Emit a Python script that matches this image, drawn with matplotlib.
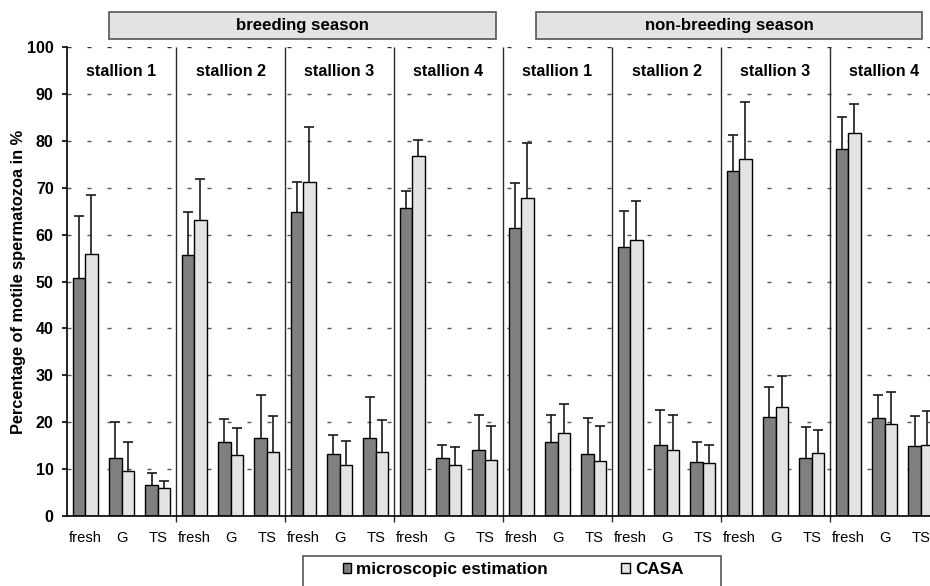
import matplotlib
matplotlib.use("Agg")
import matplotlib.pyplot as plt
from matplotlib.patches import Rectangle
import numpy as np

plt.rcParams['font.family'] = ['Liberation Sans', 'DejaVu Sans']

# ---------------- data ----------------
seasons = ["breeding season", "non-breeding season"]
stallions = ["stallion 1", "stallion 2", "stallion 3", "stallion 4"]
treatments = ["fresh", "G", "TS"]
series_names = ["microscopic estimation", "CASA"]

# order: season -> stallion -> treatment (fresh, G, TS)
micro_mean = [50.7, 12.4, 6.6, 55.7, 15.8, 16.6, 64.9, 13.3, 16.6, 65.7, 12.4, 14.1,
              61.5, 15.8, 13.3, 57.4, 15.1, 11.6, 73.6, 21.2, 12.3, 78.3, 20.8, 14.9]
micro_sd = [13.3, 7.6, 2.6, 9.2, 4.8, 9.3, 6.3, 4.0, 8.8, 3.7, 2.7, 7.4,
            9.4, 5.7, 7.5, 7.6, 7.4, 4.1, 7.6, 6.3, 6.6, 6.8, 5.0, 6.4]
casa_mean = [55.9, 9.5, 6.0, 63.2, 13.0, 13.6, 71.2, 10.9, 13.6, 76.8, 10.9, 12.0,
             67.9, 17.6, 11.7, 58.9, 14.0, 11.3, 76.2, 23.3, 13.5, 81.7, 19.6, 15.2]
casa_sd = [12.5, 6.3, 1.5, 8.7, 5.7, 7.7, 11.7, 5.1, 6.8, 3.3, 3.9, 7.1,
           11.6, 6.3, 7.5, 8.2, 7.5, 3.8, 12.0, 6.5, 4.9, 6.1, 6.9, 7.1]
y_ticks = [0, 10, 20, 30, 40, 50, 60, 70, 80, 90, 100]
y_label = "Percentage of motile spermatozoa in %"

# ---------------- layout helpers ----------------
W, H = 930, 586
def fx(x): return x / W
def fy(y): return 1 - y / H

fig = plt.figure(figsize=(W / 100, H / 100), dpi=100)
ax = fig.add_axes([fx(67), fy(516), 872 / W, 469 / H])

n = len(micro_mean)
x = np.arange(n)
bw = 0.345
dark = "#808080"
light = "#e3e3e3"

ax.set_xlim(-0.5, n - 0.5)
ax.set_ylim(0, 100)

# dashed grid lines
for v in y_ticks[1:]:
    ax.axhline(v, color="#555555" if v < 100 else "#333333", lw=1.0,
               dashes=(2.9, 11.5), zorder=0)

b1 = ax.bar(x - bw / 2, micro_mean, width=bw, color=dark, edgecolor="black",
            linewidth=1.0, zorder=2, label=series_names[0])
b2 = ax.bar(x + bw / 2, casa_mean, width=bw, color=light, edgecolor="black",
            linewidth=1.0, zorder=2, label=series_names[1])

# upward-only error bars
for xs, m, s in ((x - bw / 2, micro_mean, micro_sd), (x + bw / 2, casa_mean, casa_sd)):
    m = np.array(m); s = np.array(s)
    ax.vlines(xs, m, m + s, color="#1a1a1a", lw=1.2, zorder=3)
    ax.plot(xs, m + s, ls="none", marker="_", ms=6.5, mew=1.2, color="#1a1a1a", zorder=3)

# group separators
n_groups = len(seasons) * len(stallions)
for g in range(1, n_groups):
    ax.vlines(g * 3 - 0.5, -1.2, 100, color="#2a2a2a", lw=1.0, zorder=1, clip_on=False)

# stallion labels
for si in range(len(seasons)):
    for k, st in enumerate(stallions):
        g = si * len(stallions) + k
        ax.text(g * 3 + 1, 94.7, st, ha="center", va="center",
                fontsize=11.6, fontweight="bold", zorder=4)

# axes styling
for sp in ("top", "right"):
    ax.spines[sp].set_visible(False)
ax.spines["left"].set_linewidth(1.2)
ax.spines["bottom"].set_linewidth(1.2)
ax.set_yticks(y_ticks)
ax.set_yticklabels([str(v) for v in y_ticks], fontsize=11.5, fontweight="bold")
ax.tick_params(axis="y", length=3.6, width=1.2, pad=6)
ax.set_xticks(x)
ax.set_xticklabels(treatments * n_groups, fontsize=10.6)
ax.tick_params(axis="x", length=0, pad=10.5)
ax.set_ylabel(y_label, fontsize=11.8, fontweight="bold")
ax.yaxis.set_label_coords((26 - 67) / 872, 0.5)

# season header boxes
boxes = [(109, 496), (536, 922)]
for (x0, x1), name in zip(boxes, seasons):
    fig.patches.append(Rectangle((fx(x0), fy(39)), (x1 - x0) / W, 27 / H,
                                 transform=fig.transFigure, facecolor=light,
                                 edgecolor="#555555", lw=1.2))
    fig.text(fx((x0 + x1) / 2), fy(25.5), name, ha="center", va="center",
             fontsize=12.1, fontweight="bold")

# legend box (extends past bottom edge as in the reference)
fig.patches.append(Rectangle((fx(303), fy(600)), (721 - 303) / W, 44 / H,
                             transform=fig.transFigure, facecolor="white",
                             edgecolor="#555555", lw=1.2))
fig.legend(handles=[b1, b2], labels=series_names, loc="center left",
           bbox_to_anchor=(fx(334), fy(569.5)), ncol=2, frameon=False,
           borderpad=0, handlelength=0.5, handleheight=0.5, handletextpad=0.3,
           columnspacing=4.3, prop={"weight": "bold", "size": 12.3})

fig.savefig("out.png", dpi=100)
